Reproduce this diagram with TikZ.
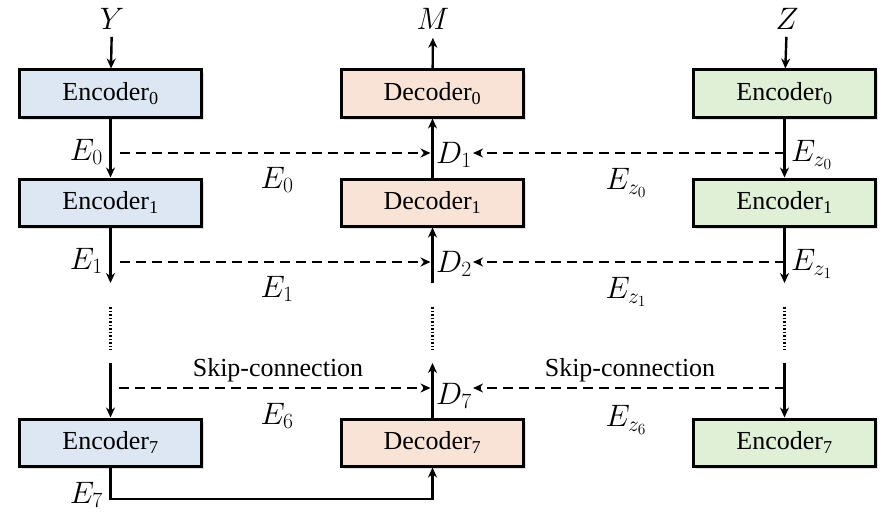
\RequirePackage{fix-cm}
\documentclass[tikz,border=0pt]{standalone}
\usepackage{fontspec}
\setmainfont{Liberation Serif}
\usetikzlibrary{positioning,arrows.meta,shadows}
\definecolor{mblue}{RGB}{221,231,243}
\definecolor{mpeach}{RGB}{249,227,215}
\definecolor{mgreen}{RGB}{224,240,215}

\begin{document}
\begin{tikzpicture}[
    x=1pt, y=-1pt,
    box/.style={rectangle, draw=black, line width=3pt, minimum width=182pt, minimum height=47pt, inner sep=0pt,
        font=\fontsize{26}{30}\selectfont, drop shadow={opacity=0.25, shadow xshift=2pt, shadow yshift=-3pt}},
    node1/.style={box, fill=mblue},
    node2/.style={box, fill=mpeach},
    node3/.style={box, fill=mgreen},
    lbl/.style={font=\fontsize{31}{36}\selectfont, inner sep=1pt},
    txt/.style={font=\fontsize{26}{30}\selectfont, inner sep=1pt},
    arrow_main/.style={-{Stealth[length=10pt,width=9pt]}, line width=2.4pt},
    arrow_skip/.style={arrow_main, dash pattern=on 10pt off 6pt},
    dots/.style={line width=2.6pt, dash pattern=on 1.5pt off 2pt},
    ]
\useasboundingbox (0,0) rectangle (890,516);

% rows where the lines meet
\coordinate (row1) at (0,153);
\coordinate (row2) at (0,262);
\coordinate (stop2) at (0,283);
\coordinate (dot1) at (0,307);
\coordinate (dot2) at (0,350);
\coordinate (start7) at (0,363);
\coordinate (row7) at (0,388);
\coordinate (bot) at (0,499);

\node[node1] (enc0) at (110.5,93.5) {Encoder\textsubscript{0}};
\node[node2, right=137pt of enc0] (dec0) {Decoder\textsubscript{0}};
\node[node3, right=167pt of dec0] (zenc0) {Encoder\textsubscript{0}};
\node[node1, below=59pt of enc0] (enc1) {Encoder\textsubscript{1}};
\node[node2, below=59pt of dec0] (dec1) {Decoder\textsubscript{1}};
\node[node3, below=59pt of zenc0] (zenc1) {Encoder\textsubscript{1}};
\node[node1, below=190pt of enc1] (enc7) {Encoder\textsubscript{7}};
\node[node2, below=190pt of dec1] (dec7) {Decoder\textsubscript{7}};
\node[node3, below=190pt of zenc1] (zenc7) {Encoder\textsubscript{7}};

\node[lbl] (y) at (112,19) {$Y$};
\node[lbl] (m) at (433,19) {$M$};
\node[lbl] (z) at (787,19) {$Z$};

\node[lbl, anchor=east] (e0) at (104,152) {$E_0$};
\node[lbl, anchor=east] (e1) at (104,261) {$E_1$};
\node[lbl, anchor=east] (e7) at (104,495) {$E_7$};
\node[lbl, anchor=west] (ez0) at (790,155) {$E_{z_0}$};
\node[lbl, anchor=west] (ez1) at (790,264) {$E_{z_1}$};
\node[lbl, anchor=west] (d1) at (435,155) {$D_1$};
\node[lbl, anchor=west] (d2) at (435,264) {$D_2$};
\node[lbl, anchor=west] (d7) at (435,396) {$D_7$};

\node[lbl] (e0b) at (277,180) {$E_0$};
\node[lbl] (e1b) at (277,289) {$E_1$};
\node[lbl] (e6b) at (277,416) {$E_6$};
\node[lbl] (ez0b) at (626,183) {$E_{z_0}$};
\node[lbl] (ez1b) at (626,292) {$E_{z_1}$};
\node[lbl] (ez6b) at (626,420) {$E_{z_6}$};
\node[txt] (skipl) at (278,370) {Skip-connection};
\node[txt] (skipr) at (630,370) {Skip-connection};

% inputs and output
\draw[arrow_main, shorten <=6pt] (y) -- (enc0);
\draw[arrow_main, shorten <=6pt] (z) -- (zenc0);
\draw[arrow_main, shorten >=7pt] (dec0) -- (m);

% first level
\draw[arrow_main] (enc0) -- (enc1);
\draw[arrow_main] (dec1) -- (dec0);
\draw[arrow_main] (zenc0) -- (zenc1);
\draw[arrow_skip, shorten <=9pt, shorten >=2pt] (enc0.south |- row1) -- (dec0.south |- row1);
\draw[arrow_skip] (zenc0.south |- row1) -- (d1.east |- row1);

% second level
\draw[arrow_main] (enc1) -- (enc1.south |- stop2);
\draw[arrow_main] (dec1.south |- stop2) -- (dec1);
\draw[arrow_main] (zenc1) -- (zenc1.south |- stop2);
\draw[arrow_skip, shorten <=9pt, shorten >=2pt] (enc1.south |- row2) -- (dec1.south |- row2);
\draw[arrow_skip] (zenc1.south |- row2) -- (d2.east |- row2);

\foreach \c in {enc1, dec1, zenc1}
    \draw[dots] (\c.south |- dot1) -- (\c.south |- dot2);

% last level
\draw[arrow_main] (enc7.north |- start7) -- (enc7);
\draw[arrow_main] (dec7) -- (dec7.north |- start7);
\draw[arrow_main] (zenc7.north |- start7) -- (zenc7);
\draw[arrow_skip, shorten <=8pt, shorten >=2pt] (enc7.north |- row7) -- (dec7.north |- row7);
\draw[arrow_skip] (zenc7.north |- row7) -- (d7.east |- row7);
\draw[arrow_main] (enc7.south) -- (enc7.south |- bot) -| (dec7.south);

\end{tikzpicture}
\end{document}
